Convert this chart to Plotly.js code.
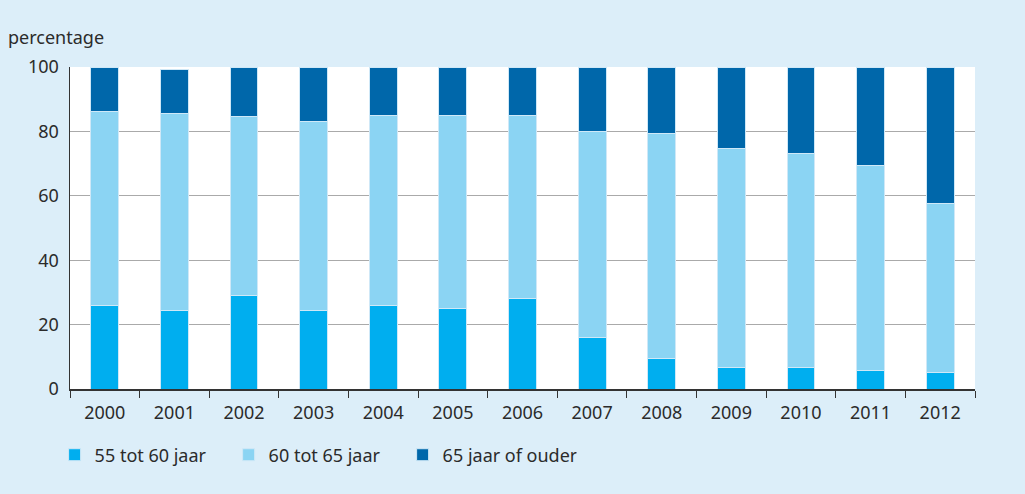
<!DOCTYPE html>
<html>
<head>
<meta charset="utf-8">
<script src="https://cdn.plot.ly/plotly-3.0.1.min.js"></script>
<style>
  html, body { margin: 0; padding: 0; background: #dceef9; }
  #chart { width: 1025px; height: 494px; }
</style>
</head>
<body>
<div id="chart"></div>
<script>
const years = ['2000', '2001', '2002', '2003', '2004', '2005', '2006', '2007', '2008', '2009', '2010', '2011', '2012'];
const age55to60 = [26, 24.4, 29, 24.4, 26, 25, 28, 16, 9.6, 6.6, 6.6, 5.7, 5.1];
const age60to65 = [60.3, 61.1, 55.7, 58.8, 58.8, 59.8, 56.8, 64.1, 69.7, 68, 66.6, 63.7, 52.6];
const age65plus = [13.7, 13.8, 15.3, 16.8, 15.2, 15.2, 15.2, 19.9, 20.7, 25.4, 26.8, 30.6, 42.3];

const fontFam = 'Noto Sans, Open Sans, sans-serif';

function makeTrace(name, values, colour) {
    return {
        x: years,
        y: values,
        name: name,
        type: 'bar',
        marker: { color: colour, line: { color: '#cfe8f7', width: 1 } },
        hoverinfo: 'x+y+name'
    };
}

const data = [
    makeTrace('55 tot 60 jaar', age55to60, '#00aeef'),
    makeTrace('60 tot 65 jaar', age60to65, '#8bd4f3'),
    makeTrace('65 jaar of ouder', age65plus, '#0067aa')
];

const layout = {
    width: 1025,
    height: 494,
    barmode: 'stack',
    bargap: 0.6,
    paper_bgcolor: '#dceef9',
    plot_bgcolor: '#ffffff',
    margin: { l: 70, r: 50, t: 67, b: 105 },
    font: { family: fontFam, size: 18, color: '#2b2b2b' },
    xaxis: {
        type: 'category',
        tickson: 'boundaries',
        ticks: 'outside',
        ticklen: 7,
        tickcolor: '#333333',
        showline: true,
        linecolor: '#333333',
        linewidth: 1.5,
        showgrid: false,
        ticklabelstandoff: 7,
        tickfont: { size: 18 }
    },
    yaxis: {
        range: [0, 100],
        tickvals: [0, 20, 40, 60, 80, 100],
        showline: true,
        linecolor: '#333333',
        linewidth: 1.5,
        gridcolor: '#aaaaaa',
        gridwidth: 1,
        zeroline: false,
        ticks: '',
        ticklabelstandoff: 6,
        tickfont: { size: 18 }
    },
    showlegend: true,
    legend: {
        orientation: 'h',
        x: -0.017,
        xanchor: 'left',
        y: -0.205,
        yanchor: 'middle',
        traceorder: 'normal',
        font: { size: 18 },
        itemwidth: 30,
        entrywidth: 129,
        entrywidthmode: 'pixels',
        bgcolor: 'rgba(0,0,0,0)'
    },
    annotations: [{
        text: 'percentage',
        xref: 'paper',
        yref: 'paper',
        x: -0.071,
        y: 1.05,
        xanchor: 'left',
        yanchor: 'bottom',
        showarrow: false,
        font: { size: 18 }
    }]
};

Plotly.newPlot('chart', data, layout, { displayModeBar: false, staticPlot: true });
</script>
</body>
</html>
